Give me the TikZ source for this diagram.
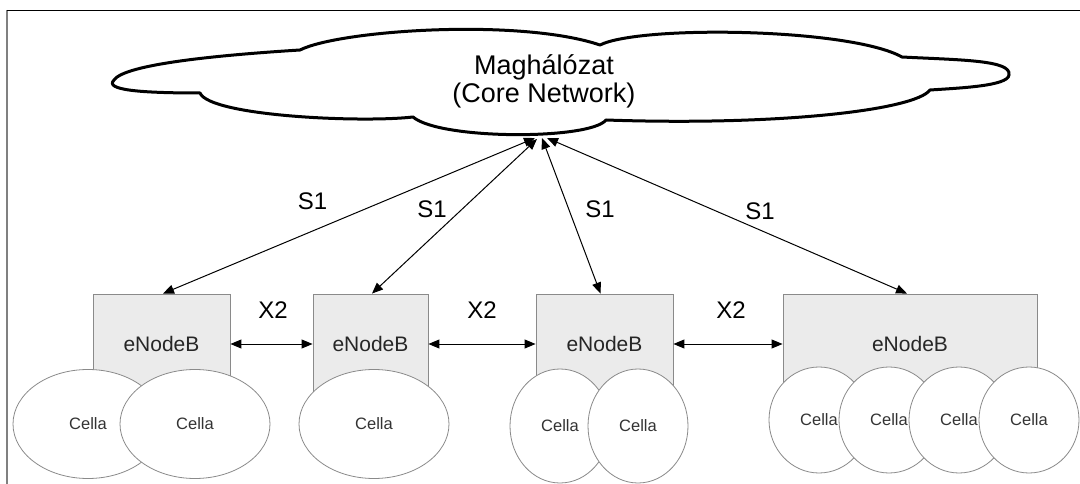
\documentclass[tikz,border=0pt]{standalone}
\usepackage{fontspec}
\setmainfont{Liberation Sans}
\usetikzlibrary{arrows.meta,shapes.geometric}
\definecolor{boxfill}{HTML}{EBEBEB}
\definecolor{boxline}{HTML}{8A8A8A}
\definecolor{celline}{HTML}{8A8A8A}
\definecolor{celltext}{HTML}{333333}
\tikzset{
  enb/.style={draw=boxline, line width=0.9pt, fill=boxfill, inner sep=0pt,
    font=\fontsize{21}{24}\selectfont, text=black!85},
  cellbig/.style={ellipse, draw=celline, line width=0.8pt, fill=white, inner sep=0pt,
    minimum width=150pt, minimum height=109pt, font=\fontsize{16.5}{18}\selectfont, text=celltext},
  cellsmall/.style={ellipse, draw=celline, line width=0.8pt, fill=white, inner sep=0pt,
    minimum width=100pt, minimum height=110pt, font=\fontsize{16.5}{18}\selectfont, text=celltext},
  ifc/.style={line width=1pt, {Triangle[length=11pt,width=9pt]}-{Triangle[length=11pt,width=9pt]}},
  lbl/.style={anchor=base, inner sep=0pt, font=\fontsize{24}{26}\selectfont},
}
\begin{document}
\begin{tikzpicture}[x=1pt,y=-1pt]
\useasboundingbox (0,0) rectangle (1080,484);
% frame
\draw[gray, line width=2pt] (7,10) -- (7,484);
\draw[black, line width=1pt] (7,11) -- (1080,11);
% cloud
\draw[line width=3pt, fill=white, line join=round]
  (114,80) .. controls (125,64) and (220,55) .. (300,50)
  .. controls (340,30) and (520,18) .. (600,45)
  .. controls (640,25) and (850,28) .. (902,57)
  .. controls (960,60) and (1012,60) .. (1009,75)
  .. controls (1008,86) and (960,88) .. (930,90)
  .. controls (915,110) and (780,126) .. (606,120)
  .. controls (590,140) and (440,140) .. (413,117)
  .. controls (360,123) and (210,116) .. (200,93)
  .. controls (140,93) and (104,90) .. (114,80) -- cycle;
\node[align=center, inner sep=0pt, font=\fontsize{27}{28}\selectfont] (core) at (544,81.5) {Maghálózat\\(Core Network)};
% anchor points on the cloud bottom
\coordinate (c1) at (535,138);
\coordinate (c2) at (537,139);
\coordinate (c3) at (542,138);
\coordinate (c4) at (547,138);
% eNodeB boxes
\node[enb, minimum width=137pt, minimum height=100pt] (e1) at (161.5,344) {eNodeB};
\node[enb, minimum width=115pt, minimum height=100pt] (e2) at (370.5,344) {eNodeB};
\node[enb, minimum width=137pt, minimum height=100pt] (e3) at (604.5,344) {eNodeB};
\node[enb, minimum width=254pt, minimum height=100pt] (e4) at (910,344) {eNodeB};
% cells
\node[cellbig] (k1) at (88,424) {Cella};
\node[cellbig] (k2) at (195,424) {Cella};
\node[cellbig] (k3) at (374,424) {Cella};
\node[cellsmall, minimum height=114pt] (k4) at (560,426) {Cella};
\node[cellsmall, minimum height=114pt] (k5) at (638,426) {Cella};
\node[cellsmall, minimum height=106pt] (k6) at (819,420) {Cella};
\node[cellsmall, minimum height=106pt] (k7) at (889,420) {Cella};
\node[cellsmall, minimum height=106pt] (k8) at (959,420) {Cella};
\node[cellsmall, minimum height=106pt] (k9) at (1029,420) {Cella};
% S1 interfaces
\draw[ifc] (c1) -- ([xshift=1.5pt]e1.north);
\draw[ifc] (c2) -- ([xshift=1.5pt]e2.north);
\draw[ifc] (c3) -- ([xshift=-4pt]e3.north);
\draw[ifc] (c4) -- ([xshift=-3pt]e4.north);
\node[lbl] (s1a) at (312.5,210) {S1};
\node[lbl] (s1b) at (432,218) {S1};
\node[lbl] (s1c) at (600,218) {S1};
\node[lbl] (s1d) at (760,219) {S1};
% X2 interfaces
\draw[ifc] (e1.east) -- (e2.west);
\draw[ifc] (e2.east) -- (e3.west);
\draw[ifc] (e3.east) -- (e4.west);
\node[lbl] (x2a) at (273,318) {X2};
\node[lbl] (x2b) at (482,318) {X2};
\node[lbl] (x2c) at (731,318) {X2};
\end{tikzpicture}
\end{document}
